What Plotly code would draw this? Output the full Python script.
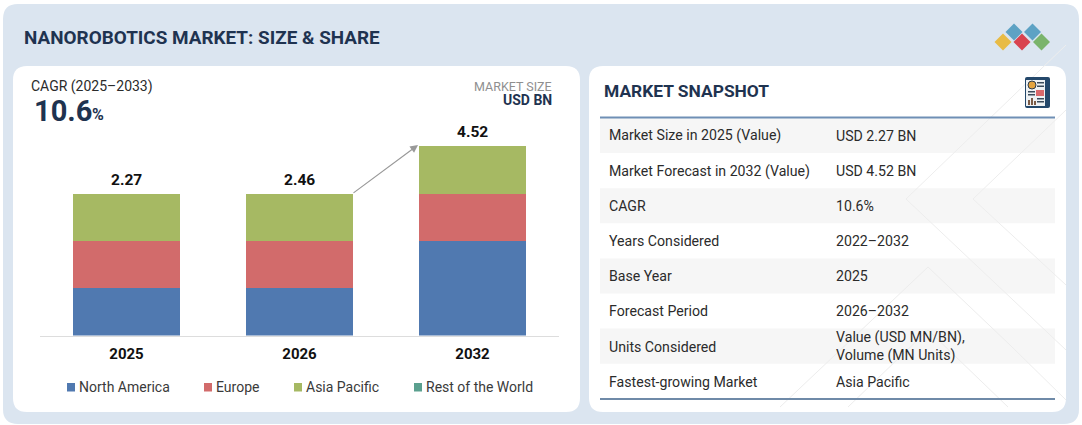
# --- Imports ---
import plotly.graph_objects as go

# --- Data ---
YEARS = ["2025", "2026", "2032"]
TOTAL_LABELS = ["2.27", "2.46", "4.52"]
NORTH_AMERICA = [1, 1, 2]
EUROPE = [1, 1, 1]
ASIA_PACIFIC = [1, 1, 1]
REST_OF_WORLD = [0, 0, 0]

REGION_NAMES = ["North America", "Europe", "Asia Pacific", "Rest of the World"]

SNAPSHOT_LABELS = [
    "Market Size in 2025 (Value)",
    "Market Forecast in 2032 (Value)",
    "CAGR",
    "Years Considered",
    "Base Year",
    "Forecast Period",
    "Units Considered",
    "Fastest-growing Market",
]
SNAPSHOT_VALUES = [
    "USD 2.27 BN",
    "USD 4.52 BN",
    "10.6%",
    "2022–2032",
    "2025",
    "2026–2032",
    "Value (USD MN/BN),<br>Volume (MN Units)",
    "Asia Pacific",
]

# --- Colors ---
REGION_COLORS = ["#5079B0", "#D26B6B", "#A6B963", "#5BA08F"]
NAVY = "#1F3350"
PANEL = "#DBE5F0"
FONT = "Roboto"

W, H = 1082, 425


def fx(x):
    return x / W


def fy(y):
    return 1 - y / H


def rounded_rect(x0, y0, x1, y1, r, color):
    path = (
        f"M{fx(x0 + r)},{fy(y0)} L{fx(x1 - r)},{fy(y0)} Q{fx(x1)},{fy(y0)} {fx(x1)},{fy(y0 + r)} "
        f"L{fx(x1)},{fy(y1 - r)} Q{fx(x1)},{fy(y1)} {fx(x1 - r)},{fy(y1)} "
        f"L{fx(x0 + r)},{fy(y1)} Q{fx(x0)},{fy(y1)} {fx(x0)},{fy(y1 - r)} "
        f"L{fx(x0)},{fy(y0 + r)} Q{fx(x0)},{fy(y0)} {fx(x0 + r)},{fy(y0)} Z"
    )
    return dict(type="path", xref="paper", yref="paper", path=path, fillcolor=color,
                line=dict(width=0), layer="below")


def box(x0, y0, x1, y1, color):
    return dict(type="rect", xref="paper", yref="paper", x0=fx(x0), x1=fx(x1), y0=fy(y0), y1=fy(y1),
                fillcolor=color, line=dict(width=0), layer="below")


def segment(x0, y0, x1, y1, color, width=1):
    return dict(type="line", xref="paper", yref="paper", x0=fx(x0), x1=fx(x1), y0=fy(y0), y1=fy(y1),
                line=dict(color=color, width=width), layer="below")


def diamond(cx, cy, r, color):
    path = f"M{fx(cx - r)},{fy(cy)} L{fx(cx)},{fy(cy - r)} L{fx(cx + r)},{fy(cy)} L{fx(cx)},{fy(cy + r)} Z"
    return dict(type="path", xref="paper", yref="paper", path=path, fillcolor=color,
                line=dict(width=0), layer="below")


def label(x, y, text, size, color="#2B2B2B", bold=False, anchor="left"):
    # annotations carry a small inner padding, so nudge them back onto the wanted pixel
    nudge = -2 if anchor == "left" else 2
    return dict(xref="paper", yref="paper", x=fx(x + nudge), y=fy(y), text=f"<b>{text}</b>" if bold else text,
                showarrow=False, xanchor=anchor, yanchor="middle", align=anchor,
                font=dict(family=FONT, size=size, color=color))


# --- Bars ---
fig = go.Figure()
series = [NORTH_AMERICA, EUROPE, ASIA_PACIFIC, REST_OF_WORLD]
for name, values, color in zip(REGION_NAMES, series, REGION_COLORS):
    fig.add_trace(go.Bar(x=YEARS, y=values, name=name, marker=dict(color=color, line=dict(width=0))))

# --- Panels ---
shapes = [
    rounded_rect(3, 4, 1079, 424, 15, PANEL),
    rounded_rect(13, 66, 580, 412, 14, "white"),
    rounded_rect(589, 66, 1066, 412, 14, "white"),
]

# Table stripes
row_top = 118
row_height = 35.1
for i in range(len(SNAPSHOT_LABELS)):
    if i % 2 == 0:
        shapes.append(box(600, row_top + i * row_height, 1055, row_top + (i + 1) * row_height, "#F6F6F6"))

# Faint watermark lines
for pts in [
    [(1066, 45), (906, 199), (1066, 350)],
    [(1066, 110), (973, 199), (1066, 285)],
    [(780, 407), (928, 267), (1010, 345), (1066, 400)],
    [(848, 407), (928, 330), (1008, 407)],
]:
    for a, b in zip(pts, pts[1:]):
        shapes.append(segment(a[0], a[1], b[0], b[1], "#EDEDED"))

shapes.append(segment(600, 117.5, 1055, 117.5, "#6F8FB5", 2))
shapes.append(segment(600, 399, 1055, 399, "#6F8AA8", 2))

# Logo
shapes += [
    diamond(1003, 42, 8.5, "#E8BB45"),
    diamond(1022, 42, 8.5, "#D9434F"),
    diamond(1041.5, 42, 8.5, "#7AB46B"),
    diamond(1014, 32, 8.5, "#5DA2C4"),
    diamond(1032.5, 32, 8.5, "#5DA2C4"),
]

# Report icon
shapes += [
    rounded_rect(1025, 77, 1050, 108, 2, "#24486B"),
    box(1026, 80, 1045, 106, "#EEF1F3"),
    dict(type="circle", xref="paper", yref="paper", x0=fx(1028), x1=fx(1036), y0=fy(81), y1=fy(89),
         fillcolor="#E3A33F", line=dict(color="#2B3A4A", width=1), layer="below"),
    box(1037, 82, 1044, 83.5, "#3A4A5A"),
    box(1037, 85.5, 1044, 87, "#3A4A5A"),
    box(1028, 91, 1035, 92.5, "#3A4A5A"),
    box(1028, 94, 1035, 95.5, "#3A4A5A"),
    box(1036, 90, 1044, 96, "#D9686B"),
    box(1028, 100, 1030, 105, "#7B5B46"),
    box(1031, 98, 1033, 105, "#7B5B46"),
    box(1034, 101, 1036, 105, "#7B5B46"),
    box(1037, 98, 1044, 99.5, "#3A4A5A"),
    box(1037, 101, 1044, 102.5, "#3A4A5A"),
]

# Legend, drawn by hand because the built-in swatches sit too far from the text
legend_swatch_x = [67, 204, 294, 414]
for x, color in zip(legend_swatch_x, REGION_COLORS):
    shapes.append(box(x, 383, x + 8, 391.5, color))

# --- Text ---
annotations = [
    label(24, 37.6, "NANOROBOTICS MARKET: SIZE &amp; SHARE", 18.9, NAVY, bold=True),
    label(31, 86, "CAGR (2025–2033)", 14, "#2B2B2B"),
    label(34, 111, "10.6", 29, NAVY, bold=True),
    label(92, 114, "%", 16, NAVY, bold=True),
    label(552, 86, "MARKET SIZE", 12.5, "#8F8F8F", anchor="right"),
    label(552, 100, "USD BN", 14, NAVY, bold=True, anchor="right"),
    label(604, 91, "MARKET SNAPSHOT", 17.4, NAVY, bold=True),
]

for x, name in zip(legend_swatch_x, REGION_NAMES):
    annotations.append(label(x + 12, 387, name, 14, "#3A3A3A"))

for i, (left, right) in enumerate(zip(SNAPSHOT_LABELS, SNAPSHOT_VALUES)):
    y = row_top + (i + 0.5) * row_height + 0.4
    annotations.append(label(609, y, left, 14.15))
    annotations.append(label(836, y, right, 14.15))

# Totals above the stacks (category axis annotations take the position index)
for i, text in enumerate(TOTAL_LABELS):
    total = sum(values[i] for values in series)
    annotations.append(dict(x=i, y=total, xref="x", yref="y", text=f"<b>{text}</b>",
                            showarrow=False, yanchor="bottom", yshift=3,
                            font=dict(family=FONT, size=15.5, color="#111111")))

# Growth arrow
annotations.append(dict(xref="paper", yref="paper", x=fx(418), y=fy(145), text="", showarrow=True,
                        axref="pixel", ayref="pixel", ax=-66, ay=49, arrowhead=2, arrowsize=1.3,
                        arrowwidth=1.2, arrowcolor="#999999"))

fig.update_layout(
    width=W,
    height=H,
    barmode="stack",
    bargap=0.38,
    showlegend=False,
    paper_bgcolor="white",
    plot_bgcolor="rgba(0,0,0,0)",
    margin=dict(l=0, r=0, t=0, b=0, pad=0),
    font=dict(family=FONT, size=14, color="#111111"),
    shapes=shapes,
    annotations=annotations,
)

fig.update_xaxes(
    type="category",
    domain=[fx(40), fx(559)],
    range=[-0.5, 2.5],
    showgrid=False,
    showline=True,
    linecolor="#DDDDDD",
    linewidth=1,
    ticks="outside",
    ticklen=4,
    tickcolor="rgba(0,0,0,0)",
    tickfont=dict(family=FONT, size=15, color="#111111", weight="bold"),
)

fig.update_yaxes(
    domain=[fy(335.5), fy(99)],
    range=[0, 5],
    visible=False,
)

fig.write_html("out.html", config={"displayModeBar": False},
               post_script="document.body.style.margin='0';")
